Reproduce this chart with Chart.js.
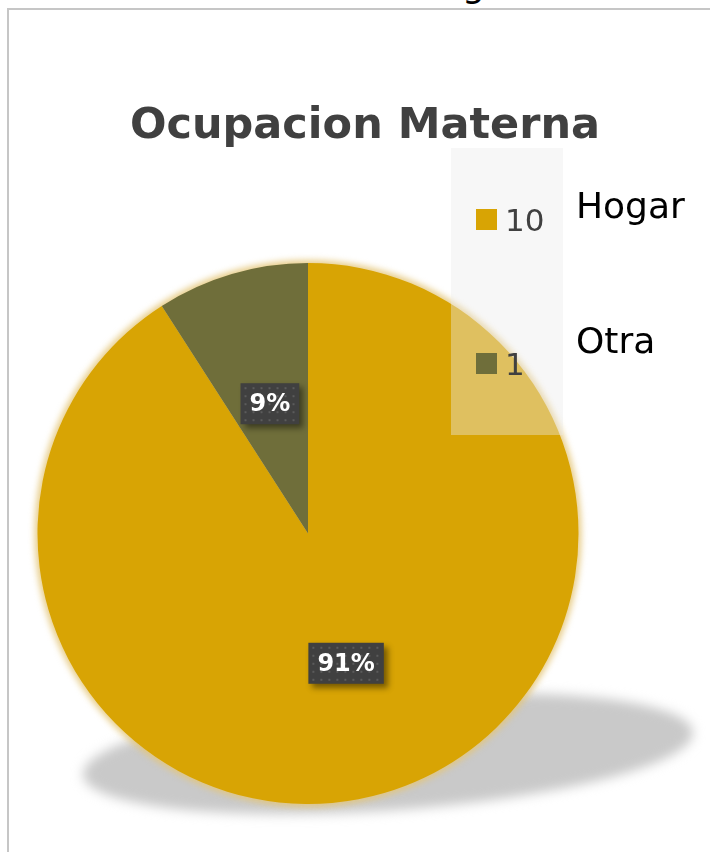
<!DOCTYPE html>
<html>
<head>
<meta charset="utf-8">
<script src="https://cdn.jsdelivr.net/npm/chart.js@4.4.0/dist/chart.umd.min.js"></script>
<style>
  html, body { margin: 0; padding: 0; background: #fff; overflow: hidden; }
  body { width: 710px; height: 852px; position: relative; }
  #frame { position: absolute; left: 7px; top: 8px; width: 720px; height: 860px;
           border-left: 2px solid #c6c6c6; border-top: 2px solid #c6c6c6; }
  #cut { position: absolute; left: 462px; top: -36px; font: 36px "DejaVu Sans", sans-serif; color: #000; }
  #wrap { position: absolute; left: 9px; top: 10px; width: 714px; height: 842px; }
</style>
</head>
<body>
<div id="frame"></div>
<div id="cut">g</div>
<div id="wrap"><canvas id="pie"></canvas></div>
<script>
const categories = ['Hogar', 'Otra'];
const counts = [10, 1];
const percentLabels = ['91%', '9%'];
const colors = ['#d8a404', '#6f6e3a'];
const chartTitle = 'Ocupacion Materna';

const ctx = document.getElementById('pie');

// shadow ellipse + soft glow under the pie
const shadowPlugin = {
  id: 'shadow',
  beforeDatasetsDraw(chart) {
    const arc = chart.getDatasetMeta(0).data[0];
    const c = chart.ctx;
    const r = arc.outerRadius;
    c.save();
    c.filter = 'blur(6px)';
    c.fillStyle = '#c9c9c9';
    c.beginPath();
    c.ellipse(arc.x + 80, arc.y + 220, r * 1.13, r * 0.21, -0.07, 0, Math.PI * 2);
    c.fill();
    c.filter = 'blur(3px)';
    c.fillStyle = 'rgba(228,198,120,0.85)';
    c.beginPath();
    c.arc(arc.x, arc.y, r + 3, 0, Math.PI * 2);
    c.fill();
    c.restore();
  }
};

// title, legend box and data labels
const overlayPlugin = {
  id: 'overlay',
  afterDatasetsDraw(chart) {
    const c = chart.ctx;
    const meta = chart.getDatasetMeta(0);
    c.save();

    // data labels
    meta.data.forEach((arc, i) => {
      const p = arc.tooltipPosition();
      c.font = 'bold 24px "DejaVu Sans", sans-serif';
      const txt = percentLabels[i];
      const w = c.measureText(txt).width + 18;
      const h = 41;
      const x = p.x - w / 2, y = p.y - h / 2;
      c.save();
      c.shadowColor = 'rgba(0,0,0,0.45)';
      c.shadowBlur = 6;
      c.shadowOffsetX = 4;
      c.shadowOffsetY = 4;
      c.fillStyle = '#404040';
      c.fillRect(x, y, w, h);
      c.restore();
      c.fillStyle = 'rgba(110,110,110,0.6)';
      for (let dx = 4; dx < w; dx += 8) {
        for (let dy = 4; dy < h; dy += 8) c.fillRect(x + dx, y + dy, 2, 2);
      }
      c.fillStyle = '#ffffff';
      c.textAlign = 'center';
      c.textBaseline = 'middle';
      c.fillText(txt, p.x, p.y + 1);
    });

    // legend box
    c.fillStyle = 'rgba(236,236,236,0.4)';
    c.fillRect(442, 138, 112, 287);
    const rows = [199, 343];
    categories.forEach((cat, i) => {
      c.fillStyle = colors[i];
      c.fillRect(467, rows[i], 21, 21);
      c.fillStyle = '#404040';
      c.font = '31px "DejaVu Sans", sans-serif';
      c.textAlign = 'left';
      c.textBaseline = 'alphabetic';
      c.fillText(String(counts[i]), 496, rows[i] + 22);
      c.fillStyle = '#000';
      c.font = '36px "DejaVu Sans", sans-serif';
      c.fillText(cat, 567, i === 0 ? 208 : 343);
    });

    // title
    c.fillStyle = '#404040';
    c.font = 'bold 43px "DejaVu Sans", sans-serif';
    c.textAlign = 'center';
    c.textBaseline = 'alphabetic';
    c.fillText(chartTitle, 356, 128);
    c.restore();
  }
};

new Chart(ctx, {
  type: 'pie',
  data: {
    labels: categories,
    datasets: [{
      data: counts,
      backgroundColor: colors,
      borderWidth: 0
    }]
  },
  options: {
    responsive: true,
    maintainAspectRatio: false,
    animation: false,
    layout: { padding: { left: 28, right: 144, top: 253, bottom: 48 } },
    plugins: {
      legend: { display: false },
      tooltip: { enabled: false },
      title: { display: false }
    }
  },
  plugins: [shadowPlugin, overlayPlugin]
});
</script>
</body>
</html>
